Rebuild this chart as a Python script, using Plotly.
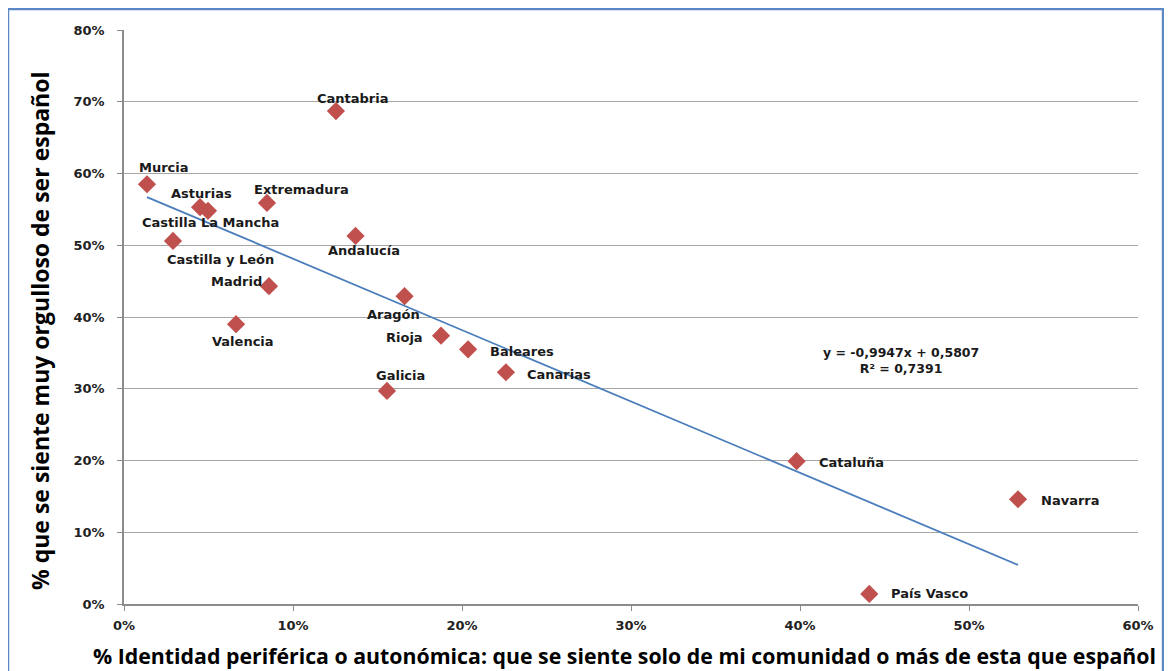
import plotly.graph_objects as go

# regiones: % identidad periférica (x) vs % muy orgulloso de ser español (y)
regions = ["Murcia", "Asturias", "Castilla La Mancha", "Castilla y León", "Extremadura",
           "Cantabria", "Andalucía", "Madrid", "Valencia", "Aragón", "Rioja",
           "Baleares", "Canarias", "Galicia", "Cataluña", "Navarra", "País Vasco"]
x_identidad = [0.0136, 0.0450, 0.0497, 0.0290, 0.0846, 0.1254, 0.1370, 0.0858, 0.0663,
               0.1660, 0.1876, 0.2036, 0.2260, 0.1556, 0.3980, 0.5290, 0.4410]
y_orgullo = [0.585, 0.553, 0.548, 0.506, 0.559, 0.687, 0.513, 0.443, 0.390,
             0.429, 0.374, 0.355, 0.323, 0.297, 0.199, 0.146, 0.014]

# tendencia lineal (Excel)
slope = -0.9947
intercept = 0.5807
r2 = 0.7391

x_ticks = [0, 0.1, 0.2, 0.3, 0.4, 0.5, 0.6]
y_ticks = [0, 0.1, 0.2, 0.3, 0.4, 0.5, 0.6, 0.7, 0.8]

x_title = "% Identidad periférica o autonómica: que se siente solo de mi comunidad o más de esta que español"
y_title = "% que se siente muy orgulloso de ser español"

# label offsets in px: (xshift, yshift, xanchor)
label_pos = {
    "Murcia": (17, 17, "center"),
    "Asturias": (1, 14, "center"),
    "Castilla La Mancha": (3, -12, "center"),
    "Castilla y León": (47, -19, "center"),
    "Extremadura": (35, 13, "center"),
    "Cantabria": (17, 13, "center"),
    "Andalucía": (8, -15, "center"),
    "Madrid": (-33, 5, "center"),
    "Valencia": (7, -17, "center"),
    "Aragón": (-11, -18, "center"),
    "Rioja": (-16, -2, "right"),
    "Baleares": (20, -2, "left"),
    "Canarias": (19, -2, "left"),
    "Galicia": (14, 15, "center"),
    "Cataluña": (20, -1, "left"),
    "Navarra": (21, -1, "left"),
    "País Vasco": (20, 0, "left"),
}

lbl_font = dict(family="DejaVu Sans", size=13, color="#1a1a1a", weight="bold")
tick_font = dict(family="DejaVu Sans", size=13, color="#222222", weight="bold")

fig = go.Figure()

x0, x1 = min(x_identidad), max(x_identidad)
fig.add_trace(go.Scatter(
    x=[x0, x1],
    y=[slope * x0 + intercept, slope * x1 + intercept],
    mode="lines",
    line=dict(color="#4A7EBB", width=1.8),
    hoverinfo="skip",
    showlegend=False,
))

fig.add_trace(go.Scatter(
    x=x_identidad,
    y=y_orgullo,
    mode="markers",
    marker=dict(symbol="diamond", size=14, color="#C0504D", line=dict(width=0)),
    text=regions,
    showlegend=False,
))

for name, xv, yv in zip(regions, x_identidad, y_orgullo):
    dx, dy, anchor = label_pos[name]
    fig.add_annotation(
        x=xv, y=yv, text=name, showarrow=False,
        xshift=dx, yshift=dy, xanchor=anchor, yanchor="middle",
        font=lbl_font,
    )

fig.add_annotation(
    x=0.46, y=0.34,
    text="y = -0,9947x + 0,5807<br>R² = 0,7391",
    showarrow=False, align="center",
    font=dict(family="DejaVu Sans", size=12.5, color="#1a1a1a", weight="bold"),
)

# axis titles as paper annotations so they sit where the original puts them
fig.add_annotation(
    xref="paper", yref="paper", x=0.494, y=-0.089,
    text=x_title, showarrow=False, xanchor="center", yanchor="middle",
    font=dict(family="Open Sans", size=21.3, color="#000000", weight="bold"),
)
fig.add_annotation(
    xref="paper", yref="paper", x=-0.083, y=0.477,
    text=y_title, showarrow=False, textangle=-90, xanchor="center", yanchor="middle",
    font=dict(family="Open Sans", size=23, color="#000000", weight="bold"),
)

# marco exterior del gráfico
fig.add_shape(type="rect", xref="paper", yref="paper",
              x0=-0.1144, x1=1.0247, y0=-0.14, y1=1.0366,
              line=dict(color="#5B87C5", width=2.5), layer="below")

# the page body adds 8px margin, so the figure is 8px smaller
fig.update_layout(
    width=1164, height=663,
    margin=dict(l=116, r=34, t=22, b=67),
    paper_bgcolor="white",
    plot_bgcolor="white",
    xaxis=dict(
        range=[0, 0.6], tickvals=x_ticks, tickformat=".0%",
        automargin=False,
        showgrid=False, zeroline=False,
        showline=True, linecolor="#8c8c8c", linewidth=1.5,
        ticks="outside", ticklen=5, tickcolor="#8c8c8c",
        tickfont=tick_font,
        ticklabelstandoff=4,
    ),
    yaxis=dict(
        range=[0, 0.8], tickvals=y_ticks, tickformat=".0%",
        automargin=False,
        showgrid=True, gridcolor="#a6a6a6", gridwidth=1,
        zeroline=False,
        showline=True, linecolor="#8c8c8c", linewidth=1.5,
        ticks="outside", ticklen=5, tickcolor="#8c8c8c",
        tickfont=tick_font,
        ticklabelstandoff=10,
    ),
)

fig.write_html("out.html")
